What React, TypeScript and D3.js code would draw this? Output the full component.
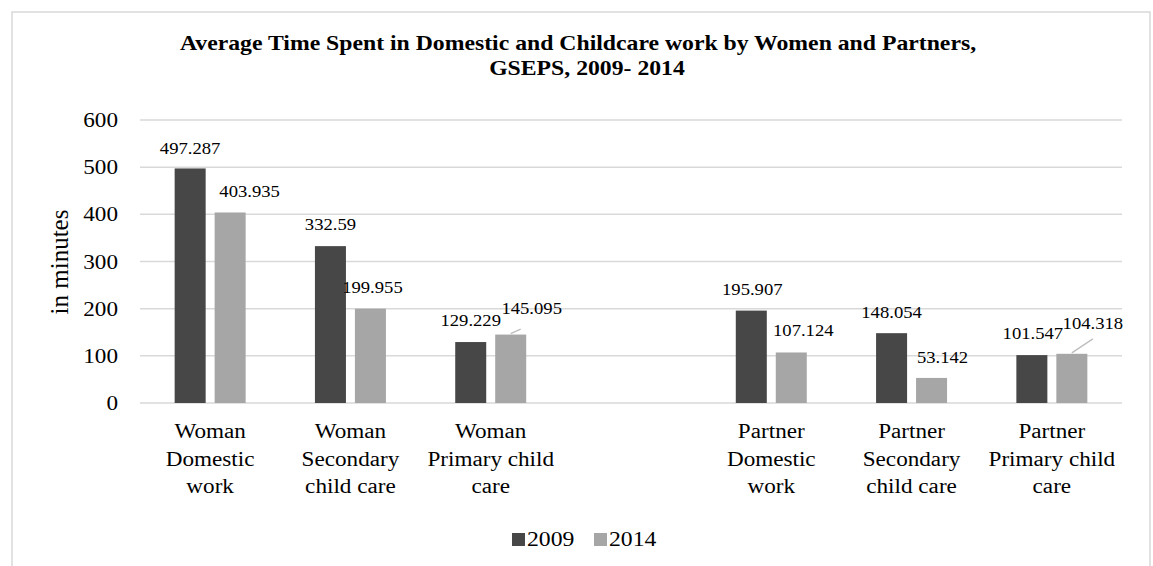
import React from "react";
import * as d3 from "d3";

const categories: string[][] = [
  ["Woman", "Domestic", "work"],
  ["Woman", "Secondary", "child care"],
  ["Woman", "Primary child", "care"],
  [],
  ["Partner", "Domestic", "work"],
  ["Partner", "Secondary", "child care"],
  ["Partner", "Primary child", "care"],
];
const series: string[] = ["2009", "2014"];
const values2009: (number | null)[] = [497.287, 332.59, 129.229, null, 195.907, 148.054, 101.547];
const values2014: (number | null)[] = [403.935, 199.955, 145.095, null, 107.124, 53.142, 104.318];
const yTicks: number[] = [0, 100, 200, 300, 400, 500, 600];
const titleLines: string[] = [
  "Average Time Spent in Domestic and Childcare work by Women and Partners,",
  "GSEPS, 2009- 2014",
];
const yAxisTitle = "in minutes";

// label nudges (style only): [dx from bar centre, distance of label centre above bar top]
const nudge2009: [number, number][] = [[0, 20], [0, 22], [0, 22], [0, 0], [1, 21.5], [0, 21], [1, 22]];
const nudge2014: [number, number][] = [[19.5, 21], [2, 21.6], [21, 26.5], [0, 0], [12, 22], [11, 21], [21, 31]];
// leader line end relative to label centre (null = no leader)
const leader2014: ([number, number] | null)[] = [null, null, [-11, 21], null, null, null, [0, 16]];

const W = 1153;
const H = 566;
const FONT = "Liberation Serif, Tinos, Times New Roman, Times, serif";
const SX = 1.13;
const DARK = "#474747";
const LIGHT = "#a6a6a6";

function T(props: {
  x: number; y: number; size: number; anchor?: string; bold?: boolean; children: React.ReactNode; rotate?: number;
}) {
  const { x, y, size, anchor = "middle", bold = false, children, rotate } = props;
  const tf = rotate
    ? `translate(${x},${y}) rotate(${rotate})`
    : `translate(${x},${y}) scale(${SX},1)`;
  return (
    <text
      transform={tf}
      style={{ fontFamily: FONT, fontSize: size, fontWeight: bold ? 700 : 400 }}
      textAnchor={anchor}
      fill="#000"
    >
      {children}
    </text>
  );
}

export default function App() {
  const left = 140;
  const right = 1122;
  const top = 120;
  const bottom = 403;

  const x = d3
    .scaleBand<number>()
    .domain(d3.range(categories.length))
    .range([left, right])
    .paddingInner(0)
    .paddingOuter(0);
  const y = d3.scaleLinear().domain([0, 600]).range([bottom, top]);
  const band = x.bandwidth();
  const barW = band * 0.221;
  const gap = band * 0.064;

  const allSeries = [values2009, values2014];
  const nudges = [nudge2009, nudge2014];
  const colors = [DARK, LIGHT];

  return (
    <svg
      width={W}
      height={H}
      style={{ position: "absolute", left: 0, top: 0, background: "#fff" }}
    >
      <rect x={0} y={0} width={W} height={H} fill="#fff" />
      <rect x={12} y={12} width={1138} height={600} fill="#fff" stroke="#d9d9d9" strokeWidth={1.5} />

      {titleLines.map((t, i) => (
        <T key={i} x={i === 0 ? 578 : 587} y={50 + i * 25} size={21} bold>
          {t}
        </T>
      ))}

      {yTicks.map((t) => (
        <g key={t}>
          <line x1={left} x2={right} y1={y(t)} y2={y(t)} stroke="#d9d9d9" strokeWidth={1.5} />
          <T x={118} y={y(t) + 7} size={20.5} anchor="end">
            {t}
          </T>
        </g>
      ))}

      <T x={68} y={262} size={25} rotate={-90}>
        {yAxisTitle}
      </T>

      {allSeries.map((vals, s) =>
        vals.map((v, i) => {
          if (v == null) return null;
          const cx = (x(i) as number) + band / 2;
          const bx = s === 0 ? cx - gap / 2 - barW : cx + gap / 2;
          const bcx = bx + barW / 2;
          const yt = y(v);
          const [dx, dy] = nudges[s][i];
          const lx = bcx + dx;
          const ly = yt - dy;
          const le = s === 1 ? leader2014[i] : null;
          return (
            <g key={`${s}-${i}`}>
              <rect x={bx} y={yt} width={barW} height={bottom - yt} fill={colors[s]} />
              {le ? (
                <line
                  x1={bcx}
                  y1={yt - 1}
                  x2={lx + le[0]}
                  y2={ly + le[1]}
                  stroke="#bfbfbf"
                  strokeWidth={1.5}
                />
              ) : null}
              <T x={lx} y={ly + 6} size={16.5}>
                {String(v)}
              </T>
            </g>
          );
        })
      )}

      {categories.map((lines, i) => {
        const cx = (x(i) as number) + band / 2;
        return lines.map((ln, j) => (
          <T key={`${i}-${j}`} x={cx} y={438 + j * 27.5} size={20.5}>
            {ln}
          </T>
        ));
      })}

      {series.map((s, i) => {
        const lx = i === 0 ? 512 : 594;
        return (
          <g key={s}>
            <rect x={lx} y={533} width={13} height={13} fill={colors[i]} />
            <T x={lx + 15} y={545.5} size={21} anchor="start">
              {s}
            </T>
          </g>
        );
      })}
    </svg>
  );
}
